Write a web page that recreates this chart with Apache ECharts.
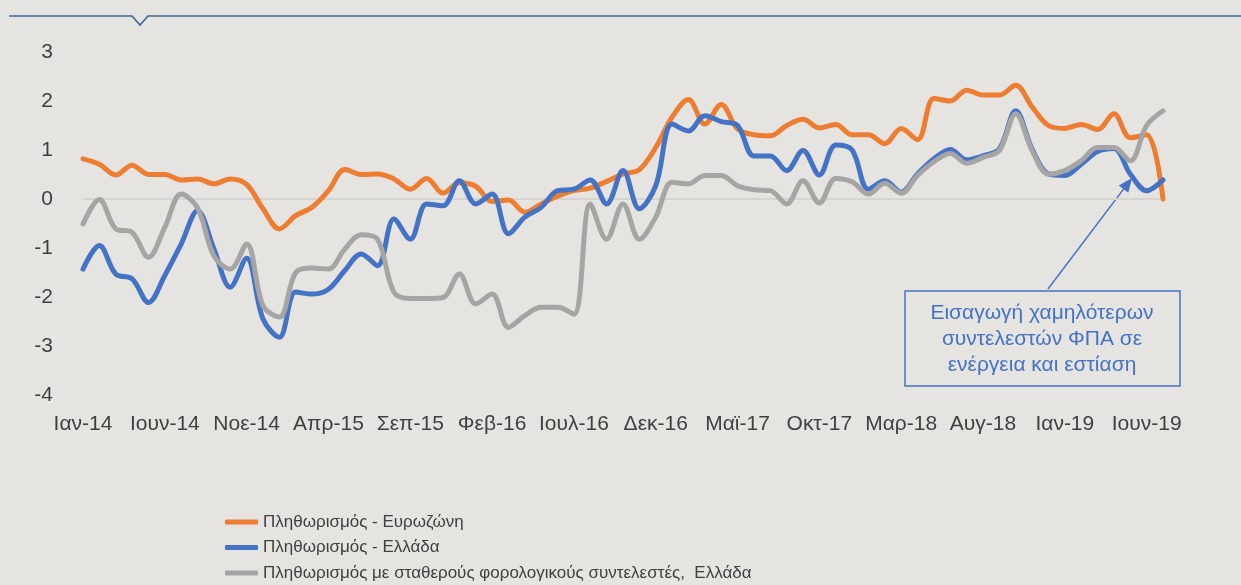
<!DOCTYPE html>
<html>
<head>
<meta charset="utf-8">
<script src="https://cdn.jsdelivr.net/npm/echarts@6.0.0/dist/echarts.min.js"></script>
<style>
html,body{margin:0;padding:0;background:#e5e4e0;}
#chart{width:1241px;height:585px;}
</style>
</head>
<body>
<div id="chart"></div>
<script>
// ---- data ----
const monthNames = ['Ιαν','Φεβ','Μαρ','Απρ','Μαϊ','Ιουν','Ιουλ','Αυγ','Σεπ','Οκτ','Νοε','Δεκ'];
const years = ['14','15','16','17','18','19'];
const lastMonthIndex2019 = 6; // series run to Ιουλ-19
const categories = [];
years.forEach(function (y, yi) {
  monthNames.forEach(function (m, mi) {
    if (yi === years.length - 1 && mi > lastMonthIndex2019) return;
    categories.push(m + '-' + y);
  });
});

const seriesNames = [
  'Πληθωρισμός - Ευρωζώνη',
  'Πληθωρισμός - Ελλάδα',
  'Πληθωρισμός με σταθερούς φορολογικούς συντελεστές,  Ελλάδα'
];

const euroArea = [
  0.82, 0.71, 0.49, 0.69, 0.50, 0.50, 0.39, 0.41, 0.31, 0.41, 0.30, -0.20,
  -0.61, -0.34, -0.17, 0.17, 0.60, 0.50, 0.51, 0.41, 0.20, 0.42, 0.12, 0.33,
  0.26, -0.05, -0.02, -0.27, -0.10, 0.06, 0.17, 0.22, 0.36, 0.51, 0.60, 1.05,
  1.67, 2.03, 1.53, 1.93, 1.43, 1.31, 1.29, 1.50, 1.63, 1.45, 1.52, 1.31,
  1.31, 1.13, 1.44, 1.21, 2.05, 2.00, 2.22, 2.12, 2.12, 2.32, 1.88, 1.50,
  1.44, 1.52, 1.42, 1.74, 1.25, 1.31, 0.00
];

const greece = [
  -1.43, -0.95, -1.53, -1.63, -2.11, -1.56, -0.92, -0.24, -1.02, -1.80, -1.21, -2.45,
  -2.82, -1.90, -1.94, -1.84, -1.46, -1.12, -1.36, -0.41, -0.82, -0.10, -0.14, 0.37,
  -0.10, 0.10, -0.71, -0.37, -0.17, 0.17, 0.20, 0.39, -0.10, 0.58, -0.20, 0.27,
  1.53, 1.39, 1.70, 1.58, 1.50, 0.88, 0.88, 0.58, 0.99, 0.49, 1.10, 1.00,
  0.20, 0.37, 0.14, 0.51, 0.82, 1.01, 0.80, 0.88, 1.02, 1.80, 1.02, 0.51,
  0.48, 0.71, 0.97, 1.03, 0.51, 0.17, 0.39
];

const greeceConstTax = [
  -0.51, -0.01, -0.61, -0.68, -1.19, -0.58, 0.10, -0.18, -1.16, -1.43, -0.92, -2.18,
  -2.41, -1.50, -1.41, -1.43, -1.02, -0.73, -0.82, -1.90, -2.03, -2.03, -2.01, -1.53,
  -2.14, -1.94, -2.62, -2.38, -2.21, -2.21, -2.35, -0.10, -0.82, -0.10, -0.82, -0.37,
  0.34, 0.31, 0.48, 0.48, 0.27, 0.19, 0.17, -0.10, 0.37, -0.08, 0.42, 0.35,
  0.10, 0.32, 0.12, 0.48, 0.76, 0.93, 0.73, 0.85, 0.99, 1.74, 0.99, 0.51,
  0.58, 0.78, 1.05, 1.05, 0.78, 1.50, 1.80
];

const yMin = -4, yMax = 3, yStep = 1;
const annotationText = 'Εισαγωγή χαμηλότερων\nσυντελεστών ΦΠΑ σε\nενέργεια και εστίαση';

// ---- chart ----
const colors = ['#ED7D31', '#4472C4', '#A5A5A5'];
const splitColors = [];
for (let v = yMin; v <= yMax; v += yStep) splitColors.push(v === 0 ? '#d5d4d0' : 'rgba(0,0,0,0)');

// arrow geometry
const arrowFrom = [1048, 289], arrowTip = [1132, 178];
const dx = arrowTip[0] - arrowFrom[0], dy = arrowTip[1] - arrowFrom[1];
const len = Math.sqrt(dx * dx + dy * dy);
const ux = dx / len, uy = dy / len, nx = -uy, ny = ux;
const headL = 14, headW = 6;
const base = [arrowTip[0] - headL * ux, arrowTip[1] - headL * uy];

const chart = echarts.init(document.getElementById('chart'), null, {renderer: 'canvas'});
const mkSeries = function (name, data, color) {
  return {
    name: name, type: 'line', data: data, smooth: 0.35, symbol: 'none',
    lineStyle: {color: color, width: 5, cap: 'round', join: 'round'},
    itemStyle: {color: color}
  };
};
chart.setOption({
  animation: false,
  backgroundColor: '#e5e4e0',
  color: colors,
  grid: {left: 83, right: 78, top: 52, bottom: 190, containLabel: false},
  xAxis: {
    type: 'category', data: categories, boundaryGap: false,
    axisLine: {show: false}, axisTick: {show: false},
    axisLabel: {interval: 4, color: '#404040', fontSize: 21, fontFamily: 'Liberation Sans', margin: 19},
    splitLine: {show: false}
  },
  yAxis: {
    type: 'value', min: yMin, max: yMax, interval: yStep,
    axisLine: {show: false}, axisTick: {show: false},
    axisLabel: {color: '#404040', fontSize: 21, fontFamily: 'Liberation Sans', margin: 30},
    splitLine: {show: true, lineStyle: {color: splitColors, width: 2}}
  },
  legend: {
    orient: 'vertical', left: 225, top: 511, height: 120, padding: 0, itemGap: 3.5,
    itemWidth: 33, itemHeight: 5, icon: 'roundRect',
    textStyle: {color: '#404040', fontSize: 17, fontFamily: 'Liberation Sans', lineHeight: 22},
    data: seriesNames
  },
  series: [
    mkSeries(seriesNames[0], euroArea, colors[0]),
    mkSeries(seriesNames[1], greece, colors[1]),
    mkSeries(seriesNames[2], greeceConstTax, colors[2])
  ],
  graphic: [
    {type: 'polyline', silent: true, shape: {points: [[9, 16], [132, 16], [140, 25], [148, 16], [1241, 16]]},
     style: {stroke: '#3d6694', lineWidth: 1.6, fill: null}},
    {type: 'rect', silent: true, shape: {x: 905, y: 291, width: 275, height: 95},
     style: {stroke: '#4472c4', lineWidth: 1.5, fill: 'rgba(0,0,0,0)'}},
    {type: 'text', silent: true, x: 1042, y: 339,
     style: {text: annotationText, align: 'center', verticalAlign: 'middle', fill: '#4472c4',
             font: '21px "Liberation Sans"', lineHeight: 26}},
    {type: 'line', silent: true, shape: {x1: arrowFrom[0], y1: arrowFrom[1], x2: base[0], y2: base[1]},
     style: {stroke: '#4472c4', lineWidth: 1.5}},
    {type: 'polygon', silent: true,
     shape: {points: [arrowTip, [base[0] + headW * nx, base[1] + headW * ny], [base[0] - headW * nx, base[1] - headW * ny]]},
     style: {fill: '#4472c4'}}
  ]
});
</script>
</body>
</html>
